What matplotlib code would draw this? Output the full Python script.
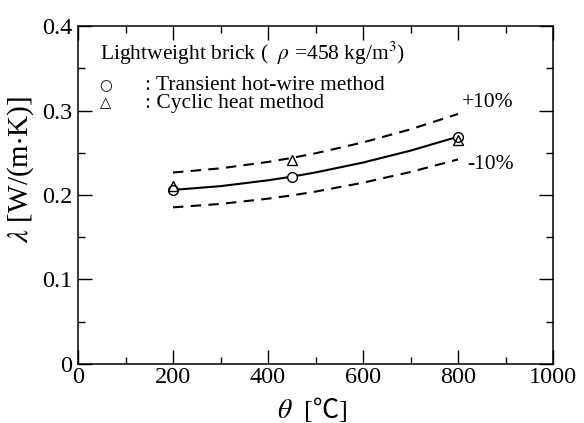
import matplotlib
matplotlib.use('Agg')
import matplotlib.pyplot as plt
import numpy as np
from matplotlib.ticker import MultipleLocator, FuncFormatter

# measured points
temp_hotwire = [200, 450, 800]
lam_hotwire = [0.206, 0.2217, 0.269]
temp_cyclic = [200, 450, 800]
lam_cyclic = [0.211, 0.2414, 0.265]

# fitted curve
curve_temp = [200, 300, 400, 450, 500, 600, 700, 800]
curve_lam = [0.206, 0.2105, 0.2174, 0.2217, 0.2267, 0.2384, 0.2525, 0.269]

x_ticks = [0, 200, 400, 600, 800, 1000]
y_ticks = [0, 0.1, 0.2, 0.3, 0.4]

plt.rcParams['font.family'] = ['Liberation Serif', 'DejaVu Serif', 'Noto Sans CJK JP']
plt.rcParams['mathtext.fontset'] = 'stix'


def plot_lambda() -> None:
    fig = plt.figure(figsize=(5.84, 4.23), dpi=100)
    ax = fig.add_axes([0.1336, 0.1395, 0.8134, 0.799])

    lam = np.array(curve_lam)
    ax.plot(curve_temp, lam, color='k', lw=1.5, zorder=2)
    ax.plot(curve_temp, lam * 1.1, color='k', lw=1.5, dashes=(5, 3.5), zorder=2)
    ax.plot(curve_temp, lam * 0.9, color='k', lw=1.5, dashes=(5, 3.5), zorder=2)

    ax.plot(temp_hotwire, lam_hotwire, 'o', ms=7, mfc='white', mec='k', mew=1.0, zorder=3)
    ax.plot(temp_cyclic, lam_cyclic, '^', ms=7.5, mfc='none', mec='k', mew=1.0, zorder=4)

    ax.set_xlim(0, 1000)
    ax.set_ylim(0, 0.4)
    ax.set_xticks(x_ticks)
    ax.set_yticks(y_ticks)
    ax.xaxis.set_minor_locator(MultipleLocator(100))
    ax.yaxis.set_minor_locator(MultipleLocator(0.05))
    ax.yaxis.set_major_formatter(FuncFormatter(lambda v, p: '0' if v == 0 else f'{v:.1f}'))

    ax.tick_params(which='both', direction='in', top=True, right=True, width=1.0)
    ax.tick_params(which='major', length=10, labelsize=17.5)
    ax.tick_params(axis='x', which='major', pad=2)
    ax.tick_params(axis='y', which='major', pad=4)
    ax.tick_params(which='minor', length=5)
    for s in ax.spines.values():
        s.set_linewidth(1.1)

    ax.set_ylabel(r'$\lambda$ [W/(m$\cdot$K)]', fontsize=21)
    ax.yaxis.set_label_coords(-0.088, 0.575)

    tr = ax.transAxes
    # x label: italic theta plus unit
    ax.text(0.452, -0.16, r'$\theta$', transform=tr, fontsize=20, ha='right', va='baseline')
    ax.text(0.476, -0.16, '[℃]', transform=tr, fontsize=19, ha='left', va='baseline',
            family=['Liberation Serif', 'Noto Sans CJK JP'])

    ax.text(0.046, 0.899, r'Lightweight brick (  $\rho$ =458 kg/m$^3$)', transform=tr,
            fontsize=15.5, va='baseline', ha='left')
    ax.text(0.057, 0.825, '○', transform=tr, fontsize=10.5, family='DejaVu Sans',
            ha='center', va='center')
    ax.text(0.057, 0.772, '△', transform=tr, fontsize=10.5, family='DejaVu Sans',
            ha='center', va='center')
    ax.text(0.141, 0.825, ': Transient hot-wire method', transform=tr, fontsize=15.5,
            ha='left', va='center')
    ax.text(0.141, 0.772, ': Cyclic heat method', transform=tr, fontsize=15.5,
            ha='left', va='center')
    ax.text(0.808, 0.760, '+10%', transform=tr, fontsize=15.5, ha='left', va='baseline')
    ax.text(0.819, 0.577, '-10%', transform=tr, fontsize=15.5, ha='left', va='baseline')

    fig.savefig('out.png', dpi=100)


if __name__ == '__main__':
    plot_lambda()
